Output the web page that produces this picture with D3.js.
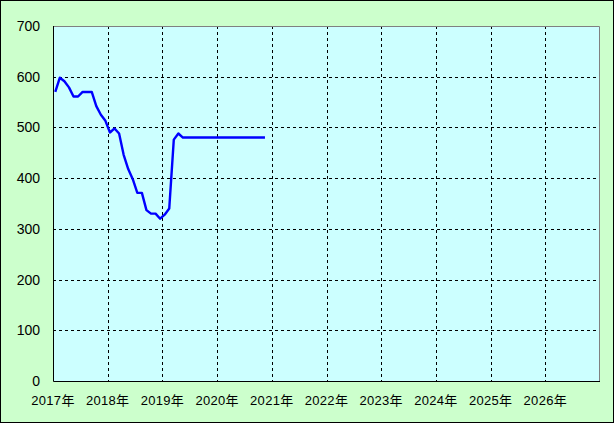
<!DOCTYPE html>
<html><head><meta charset="utf-8">
<script src="https://cdn.jsdelivr.net/npm/d3@7"></script>
<style>body{margin:0;background:#fff}svg{display:block}</style>
</head><body>
<script>
// Monthly values starting January 2017 (plotted mid-month)
const startYear = 2017;
const values = [570, 598, 591, 579, 561, 561, 570, 570, 570, 542, 525, 513,
  490, 498, 488, 446, 418, 398, 371, 371, 337, 330, 330, 320,
  328, 340, 476, 488, 480, 480, 480, 480, 480, 480, 480, 480,
  480, 480, 480, 480, 480, 480, 480, 480, 480, 480, 480];
const yTicks = [0, 100, 200, 300, 400, 500, 600, 700];
const xYears = [2017, 2018, 2019, 2020, 2021, 2022, 2023, 2024, 2025, 2026, 2027];
const xLabels = ["2017年","2018年","2019年","2020年","2021年","2022年","2023年","2024年","2025年","2026年"];

const W = 615, H = 424;
const m = {left: 53, top: 26, right: 600, bottom: 381};
const svg = d3.select("body").append("svg").attr("width", W).attr("height", H);

svg.append("rect").attr("x", 0.5).attr("y", 0.5).attr("width", 613).attr("height", 422)
  .attr("fill", "#ccffcc").attr("stroke", "#000");

const x = d3.scaleLinear().domain([2017, 2027]).range([m.left, m.right]);
const y = d3.scaleLinear().domain([0, 700]).range([m.bottom, m.top]);

svg.append("rect").attr("x", m.left).attr("y", m.top)
  .attr("width", m.right - m.left).attr("height", m.bottom - m.top)
  .attr("fill", "#ccffff");

// grid
const g = svg.append("g");
g.selectAll("line.h").data(yTicks.filter(v => v > 0 && v < 700)).join("line")
  .attr("x1", m.left).attr("x2", m.right)
  .attr("y1", d => Math.round(y(d)) + 0.5).attr("y2", d => Math.round(y(d)) + 0.5)
  .attr("stroke", "#000").attr("stroke-dasharray", "3,3");
g.selectAll("line.v").data(xYears.filter(v => v > 2017 && v < 2027)).join("line")
  .attr("y1", m.top).attr("y2", m.bottom)
  .attr("x1", d => Math.round(x(d)) + 0.5).attr("x2", d => Math.round(x(d)) + 0.5)
  .attr("stroke", "#000").attr("stroke-dasharray", "3,3");

// frame
svg.append("path")
  .attr("d", `M${m.left},${m.top + 0.5}H${m.right - 0.5}V${m.bottom}`)
  .attr("fill", "none").attr("stroke", "#808080");
svg.append("path")
  .attr("d", `M${m.left + 0.5},${m.top}V${m.bottom + 0.5}H${m.right}`)
  .attr("fill", "none").attr("stroke", "#000");

// line
const line = d3.line()
  .x((d, i) => x(startYear + (i + 0.5) / 12))
  .y(d => y(d));
svg.append("path").datum(values).attr("d", line)
  .attr("fill", "none").attr("stroke", "#0000ff").attr("stroke-width", 2.4)
  .attr("stroke-linejoin", "round");

// y labels
svg.selectAll("text.y").data(yTicks).join("text")
  .attr("x", 40).attr("y", d => y(d)).attr("dy", "0.36em")
  .attr("text-anchor", "end")
  .style("font-family", "'Liberation Sans', Arial, sans-serif").style("font-size", "14px")
  .text(d => d);

// x labels
svg.selectAll("text.x").data(xLabels).join("text")
  .attr("x", (d, i) => x(xYears[i])).attr("y", 405)
  .attr("text-anchor", "middle")
  .style("font-family", "'Liberation Sans', 'Noto Sans CJK JP', sans-serif").style("font-size", "13px")
  .style("letter-spacing", "0.3px")
  .text(d => d);
</script>
</body></html>
